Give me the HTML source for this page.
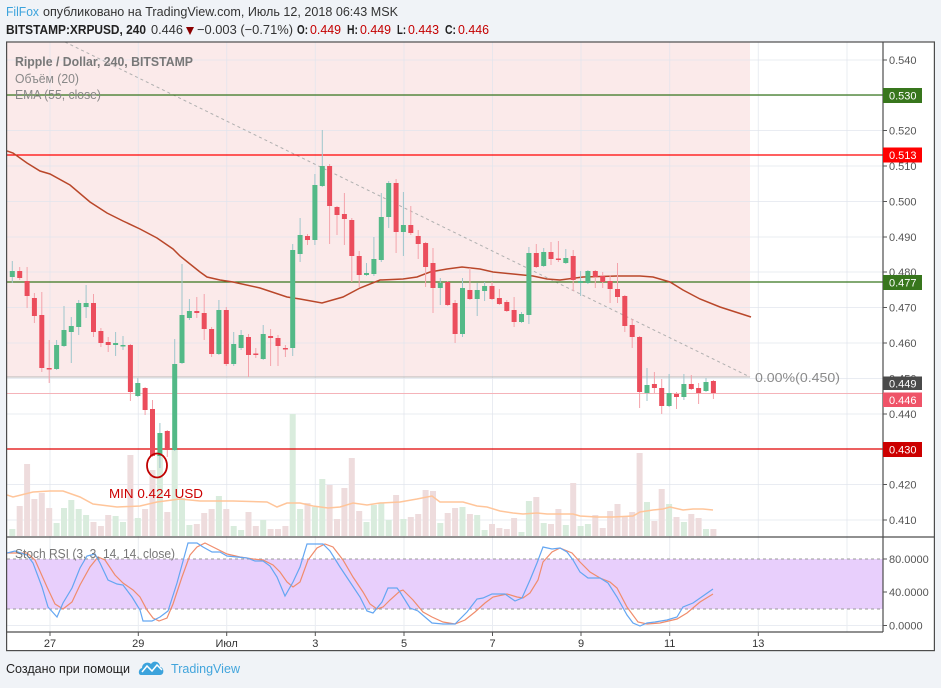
<!DOCTYPE html>
<html><head><meta charset="utf-8"><style>
html,body{margin:0;padding:0;background:#f0f3f7;}
svg{display:block;font-family:"Liberation Sans","Noto Sans CJK JP",sans-serif;}
</style></head><body>
<svg width="941" height="688" viewBox="0 0 941 688" xmlns="http://www.w3.org/2000/svg">
<defs>
<clipPath id="mp"><rect x="7" y="42" width="876" height="495"/></clipPath>
<clipPath id="sp"><rect x="7" y="537" width="876" height="95"/></clipPath>
</defs>
<rect x="0" y="0" width="941" height="688" fill="#f0f3f7"/>
<!-- header -->
<text x="6" y="16" font-size="13" fill="#3ca3dc" textLength="33" lengthAdjust="spacingAndGlyphs">FilFox</text>
<text x="43" y="16" font-size="13" fill="#333" textLength="355" lengthAdjust="spacingAndGlyphs">опубликовано на TradingView.com, Июль 12, 2018 06:43 MSK</text>
<text x="6" y="34" font-size="13" font-weight="bold" fill="#222" textLength="140" lengthAdjust="spacingAndGlyphs">BITSTAMP:XRPUSD, 240</text>
<text x="151" y="34" font-size="13" fill="#333" textLength="32" lengthAdjust="spacingAndGlyphs">0.446</text>
<polygon points="186,27 194,27 190,35" fill="#8b0000"/>
<text x="197" y="34" font-size="13" fill="#333" textLength="96" lengthAdjust="spacingAndGlyphs">−0.003 (−0.71%)</text>
<text x="297" y="34" font-size="13" font-weight="bold" fill="#222" textLength="11" lengthAdjust="spacingAndGlyphs">O:</text>
<text x="310" y="34" font-size="13" fill="#c40000" textLength="31" lengthAdjust="spacingAndGlyphs">0.449</text>
<text x="347" y="34" font-size="13" font-weight="bold" fill="#222" textLength="11" lengthAdjust="spacingAndGlyphs">H:</text>
<text x="360" y="34" font-size="13" fill="#c40000" textLength="31" lengthAdjust="spacingAndGlyphs">0.449</text>
<text x="397" y="34" font-size="13" font-weight="bold" fill="#222" textLength="9" lengthAdjust="spacingAndGlyphs">L:</text>
<text x="408" y="34" font-size="13" fill="#c40000" textLength="31" lengthAdjust="spacingAndGlyphs">0.443</text>
<text x="445" y="34" font-size="13" font-weight="bold" fill="#222" textLength="11" lengthAdjust="spacingAndGlyphs">C:</text>
<text x="458" y="34" font-size="13" fill="#c40000" textLength="31" lengthAdjust="spacingAndGlyphs">0.446</text>

<!-- chart frame background -->
<rect x="7" y="42" width="927" height="609" fill="#ffffff"/>

<!-- main pane -->
<g clip-path="url(#mp)">
<rect x="7" y="42" width="743" height="335" fill="#fbeaea"/>
<g stroke="#dfe4ec" stroke-opacity="0.7" stroke-width="1">
<path d="M7 60H883M7 95.4H883M7 130.5H883M7 166H883M7 201.5H883M7 237H883M7 272H883M7 307.5H883M7 343H883M7 378.5H883M7 414H883M7 449H883M7 484.5H883M7 520H883"/>
<path d="M50 42V537M138.3 42V537M226.7 42V537M315.3 42V537M404 42V537M492.5 42V537M581 42V537M669.7 42V537M758.3 42V537M847 42V537"/>
</g>
<!-- volume -->
<path fill="#d9ecdd" d="M9.3 529h6V536h-6zM53.6 523h6V536h-6zM61.0 508h6V536h-6zM68.3 500h6V536h-6zM75.7 509h6V536h-6zM83.1 515h6V536h-6zM112.6 516h6V536h-6zM120.0 522h6V536h-6zM134.8 518h6V536h-6zM156.9 455h6V536h-6zM171.7 448h6V536h-6zM179.0 498h6V536h-6zM186.4 525h6V536h-6zM215.9 496h6V536h-6zM230.7 526h6V536h-6zM238.1 530h6V536h-6zM260.2 520h6V536h-6zM289.7 414h6V536h-6zM297.1 509h6V536h-6zM311.9 507h6V536h-6zM319.3 479h6V536h-6zM363.5 522h6V536h-6zM370.9 505h6V536h-6zM378.3 503h6V536h-6zM385.7 520h6V536h-6zM400.4 519h6V536h-6zM437.3 523h6V536h-6zM459.5 507h6V536h-6zM474.2 515h6V536h-6zM481.6 530h6V536h-6zM518.5 532h6V536h-6zM525.9 501h6V536h-6zM540.7 523h6V536h-6zM562.8 525h6V536h-6zM577.6 526h6V536h-6zM584.9 524h6V536h-6zM644.0 502h6V536h-6zM666.1 504h6V536h-6zM680.9 522h6V536h-6zM703.0 529h6V536h-6z"/>
<path fill="#eedcdd" d="M16.7 506h6V536h-6zM24.1 464h6V536h-6zM31.4 499h6V536h-6zM38.8 493h6V536h-6zM46.2 508h6V536h-6zM90.5 522h6V536h-6zM97.9 526h6V536h-6zM105.2 515h6V536h-6zM127.4 455h6V536h-6zM142.1 509h6V536h-6zM149.5 470h6V536h-6zM164.3 512h6V536h-6zM193.8 524h6V536h-6zM201.2 513h6V536h-6zM208.6 509h6V536h-6zM223.3 509h6V536h-6zM245.5 512h6V536h-6zM252.8 526h6V536h-6zM267.6 529h6V536h-6zM275.0 529h6V536h-6zM282.4 526h6V536h-6zM304.5 503h6V536h-6zM326.6 485h6V536h-6zM334.0 519h6V536h-6zM341.4 488h6V536h-6zM348.8 458h6V536h-6zM356.2 511h6V536h-6zM393.1 495h6V536h-6zM407.8 517h6V536h-6zM415.2 514h6V536h-6zM422.6 490h6V536h-6zM430.0 491h6V536h-6zM444.7 513h6V536h-6zM452.1 508h6V536h-6zM466.9 514h6V536h-6zM489.0 524h6V536h-6zM496.4 528h6V536h-6zM503.8 529h6V536h-6zM511.1 518h6V536h-6zM533.3 497h6V536h-6zM548.0 524h6V536h-6zM555.4 509h6V536h-6zM570.2 483h6V536h-6zM592.3 515h6V536h-6zM599.7 528h6V536h-6zM607.1 511h6V536h-6zM614.5 504h6V536h-6zM621.8 517h6V536h-6zM629.2 512h6V536h-6zM636.6 453h6V536h-6zM651.4 521h6V536h-6zM658.7 489h6V536h-6zM673.5 517h6V536h-6zM688.3 514h6V536h-6zM695.6 518h6V536h-6zM710.4 529h6V536h-6z"/>
<polyline fill="none" stroke="#ffc59a" stroke-width="1.5" points="7,495 13,497 33,492 50,491 63,491 80,497 93,504 117,507 140,506 157,502 180,499 200,501 233,501 267,502 277,507 287,503 300,503 313,506 328,508 340,507 353,503 367,505 380,503 400,502 417,499 432,496 440,502 463,502 477,506 487,507 500,511 513,513 523,514 537,513 547,514 573,514 580,516 597,517 613,517 633,516 640,512 653,510 663,509 670,507 683,510 693,509 703,509 713,510"/>
<!-- fib 0 line + current price line -->
<line x1="7" y1="377" x2="750" y2="377" stroke="#b8b8b8" stroke-width="1"/>
<line x1="7" y1="393.5" x2="883" y2="393.5" stroke="#f5b3b9" stroke-width="1"/>
<!-- trend dashed -->
<line x1="65" y1="42" x2="750" y2="377" stroke="#b0b0b0" stroke-width="1" stroke-dasharray="3,3"/>
<!-- levels -->
<line x1="7" y1="95" x2="883" y2="95" stroke="#38761d" stroke-width="1.2"/>
<line x1="7" y1="155" x2="883" y2="155" stroke="#ff0000" stroke-width="1.2"/>
<line x1="7" y1="282" x2="883" y2="282" stroke="#38761d" stroke-width="1.2"/>
<line x1="7" y1="449" x2="883" y2="449" stroke="#e00000" stroke-width="1.2"/>
<!-- EMA -->
<polyline fill="none" stroke="#b9472a" stroke-width="1.5" points="7,151 13,153 27,163 40,171 50,174 70,185 90,202 107,213 123,221 140,229 157,238 173,249 180,256 190,264 200,272 207,277 220,280 233,282 260,288 287,297 300,299 322,303 343,297 360,288 380,280 403,279 417,277 430,272 447,269 462,267 480,269 493,272 513,274 533,276 547,279 560,280 583,277 617,276 640,276 653,277 670,282 683,290 700,299 720,307 751,317"/>
<!-- wicks -->
<path stroke="#9fc6cc" stroke-width="1" fill="none" d="M12.3 261V283M56.6 340V370M64.0 306V347M71.3 317V363M78.7 300V335M86.1 285V318M115.6 332V356M123.0 336V350M137.8 378V397M159.9 423V468M174.7 339V451M182.0 264V364M189.4 299V320M218.9 300V355M233.7 332V366M241.1 330V350M263.2 325V360M292.7 244V356M300.1 218V262M314.9 174V245M322.3 130V187M366.5 263V276M373.9 237V276M381.3 193V262M388.7 181V228M403.4 192V256M440.3 278V305M462.5 278V337M477.2 283V316M484.6 282V301M521.5 312V323M528.9 247V324M543.7 248V267M565.8 249V264M580.6 271V296M587.9 270V284M647.0 368V401M669.1 374V407M683.9 374V400M706.0 378V392"/>
<path stroke="#f4a3ab" stroke-width="1" fill="none" d="M19.7 267V280M27.1 267V308M34.4 293V323M41.8 292V372M49.2 340V383M93.5 294V337M100.9 328V347M108.2 337V352M130.4 344V401M145.1 387V415M152.5 400V457M167.3 430V457M196.8 297V318M204.2 294V340M211.6 327V357M226.3 307V366M248.5 334V377M255.8 348V358M270.6 329V366M278.0 335V366M285.4 345V357M307.5 234V245M329.6 164V244M337.0 206V235M344.4 193V245M351.8 218V282M359.2 251V287M396.1 179V253M410.8 206V235M418.2 230V259M425.6 242V287M433.0 248V313M447.7 281V306M455.1 300V343M469.9 268V300M492.0 282V300M499.4 289V305M506.8 300V312M514.1 297V327M536.3 244V268M551.0 242V265M558.4 241V262M573.2 250V291M595.3 270V288M602.7 272V288M610.1 275V303M617.5 263V303M624.8 295V332M632.2 319V348M639.6 336V408M654.4 372V393M661.7 379V414M676.5 392V409M691.3 375V390M698.6 383V404M713.4 380V399"/>
<!-- bodies -->
<path fill="#53b987" d="M9.8 271h5v6h-5zM54.1 345h5v24h-5zM61.5 330h5v16h-5zM68.8 326h5v6h-5zM76.2 303h5v24h-5zM83.6 303h5v4h-5zM113.1 343h5v2h-5zM120.5 345h5v1.5h-5zM135.3 383h5v13h-5zM157.4 433h5v23h-5zM172.2 364h5v86h-5zM179.5 315h5v48h-5zM186.9 311h5v7h-5zM216.4 310h5v44h-5zM231.2 344h5v20h-5zM238.6 335h5v13h-5zM260.7 334h5v25h-5zM290.2 250h5v98h-5zM297.6 235h5v19h-5zM312.4 185h5v55h-5zM319.8 166h5v20h-5zM364.0 273h5v2h-5zM371.4 259h5v15h-5zM378.8 217h5v43h-5zM386.2 183h5v34h-5zM400.9 225h5v7h-5zM437.8 283h5v5h-5zM460.0 288h5v46h-5zM474.7 290h5v9h-5zM482.1 286h5v5h-5zM519.0 314h5v8h-5zM526.4 253h5v62h-5zM541.2 252h5v14h-5zM563.3 258h5v5h-5zM578.1 281h5v2h-5zM585.4 271h5v12h-5zM644.5 385h5v8h-5zM666.6 393h5v13h-5zM681.4 384h5v13h-5zM703.5 382h5v9h-5z"/>
<path fill="#eb4d5c" d="M17.2 271h5v7h-5zM24.6 281h5v15h-5zM31.9 298h5v18h-5zM39.3 315h5v53h-5zM46.7 368h5v1.5h-5zM91.0 303h5v29h-5zM98.4 331h5v12h-5zM105.7 342h5v3h-5zM127.9 345h5v47h-5zM142.6 388h5v22h-5zM150.0 409h5v47h-5zM164.8 431h5v19h-5zM194.3 311h5v2h-5zM201.7 313h5v16h-5zM209.1 329h5v25h-5zM223.8 310h5v54h-5zM246.0 337h5v18h-5zM253.3 353.5h5v1.5h-5zM268.1 336h5v2h-5zM275.5 338h5v8h-5zM282.9 348h5v1.5h-5zM305.0 236h5v4h-5zM327.1 166h5v40h-5zM334.5 207h5v8h-5zM341.9 214h5v5h-5zM349.3 220h5v36h-5zM356.7 256h5v19h-5zM393.6 183h5v49h-5zM408.3 225h5v8h-5zM415.7 236h5v8h-5zM423.1 243h5v24h-5zM430.5 263h5v25h-5zM445.2 282h5v23h-5zM452.6 303h5v31h-5zM467.4 290h5v9h-5zM489.5 286h5v13h-5zM496.9 298h5v6h-5zM504.3 302h5v9h-5zM511.6 310h5v12h-5zM533.8 253h5v14h-5zM548.5 252h5v7h-5zM555.9 258.5h5v1.5h-5zM570.7 256h5v24h-5zM592.8 271h5v6h-5zM600.2 276h5v6h-5zM607.6 281h5v8h-5zM615.0 289h5v8h-5zM622.3 296h5v30h-5zM629.7 325h5v12h-5zM637.1 337h5v55h-5zM651.9 384h5v4h-5zM659.2 388h5v18h-5zM674.0 394h5v3h-5zM688.8 384h5v5h-5zM696.1 388h5v5h-5zM710.9 381h5v12h-5z"/>
<!-- annotations -->
<ellipse cx="157" cy="465.5" rx="10" ry="12" fill="none" stroke="#c00000" stroke-width="1.8"/>
<text x="109" y="498" font-size="13" fill="#cc0000" textLength="94" lengthAdjust="spacingAndGlyphs">MIN 0.424 USD</text>
<text x="755" y="382" font-size="13" fill="#8a8a8a" textLength="85" lengthAdjust="spacingAndGlyphs">0.00%(0.450)</text>
<text x="15" y="66" font-size="13" font-weight="bold" fill="#787878" textLength="178" lengthAdjust="spacingAndGlyphs">Ripple / Dollar, 240, BITSTAMP</text>
<text x="15" y="83" font-size="13" fill="#888" textLength="64" lengthAdjust="spacingAndGlyphs">Объём (20)</text>
<text x="15" y="99" font-size="13" fill="#888" textLength="86" lengthAdjust="spacingAndGlyphs">EMA (55, close)</text>
</g>

<!-- stoch pane -->
<g clip-path="url(#sp)">
<path stroke="#dfe4ec" stroke-opacity="0.7" d="M50 537V632M138.3 537V632M226.7 537V632M315.3 537V632M404 537V632M492.5 537V632M581 537V632M669.7 537V632M758.3 537V632M847 537V632M7 592H883M7 625.5H883"/>
<rect x="7" y="559" width="876" height="50" fill="#e8cffc"/>
<line x1="7" y1="559" x2="883" y2="559" stroke="#9a9a9a" stroke-dasharray="3,3"/>
<line x1="7" y1="609" x2="883" y2="609" stroke="#9a9a9a" stroke-dasharray="3,3"/>
<polyline fill="none" stroke="#f08c6c" stroke-width="1.2" points="7,553 27,553 35,560 47,587 55,604 63,609 72,602 80,585 90,567 98,557 105,560 115,575 123,583 133,590 140,597 147,610 153,618 159,621 167,618 173,604 182,577 190,555 197,547 205,543 215,548 227,554 240,557 253,559 263,560 273,565 280,572 287,582 293,587 300,582 308,560 317,548 325,544 333,547 343,560 353,577 363,592 370,604 377,609 383,607 390,600 400,591 403,590 413,600 423,612 432,617 443,622 455,624 465,620 475,612 485,603 493,597 507,594 517,597 523,598 530,593 538,580 543,562 552,552 560,548 572,553 580,562 590,572 600,578 610,582 617,588 627,607 638,622 647,624 660,623 677,619 687,613 700,602 713,594"/>
<polyline fill="none" stroke="#64a6f2" stroke-width="1.2" points="7,553 15,551 27,555 33,563 42,587 48,607 57,617 63,603 72,588 80,568 87,556 95,554 100,563 108,580 117,584 123,585 132,597 140,610 143,621 152,621 160,617 168,611 177,583 188,543 197,543 203,547 212,552 220,552 227,556 237,557 247,558 255,561 263,561 270,566 277,577 285,596 293,582 300,567 307,544 317,544 323,544 330,551 340,567 350,582 360,597 367,611 373,613 382,602 388,588 397,588 400,592 410,608 418,611 432,623 443,624 455,624 467,612 477,599 483,598 492,594 505,594 515,601 522,598 530,580 537,563 543,547 552,549 560,548 567,552 573,560 580,572 588,578 600,578 608,583 617,597 627,615 633,623 640,626 647,623 655,622 667,620 677,617 683,607 693,603 703,596 713,589"/>
<text x="15" y="558" font-size="13" fill="#777" textLength="160" lengthAdjust="spacingAndGlyphs">Stoch RSI (3, 3, 14, 14, close)</text>
</g>

<!-- frame lines -->
<g stroke="#4d4d4d" stroke-width="1.2" fill="none">
<rect x="6.6" y="42" width="927.8" height="608.6"/>
<line x1="883" y1="42" x2="883" y2="632"/>
<line x1="7" y1="537" x2="934" y2="537"/>
<line x1="7" y1="632" x2="883" y2="632"/>
</g>
<!-- ticks -->
<path stroke="#555" d="M883 60h4M883 95h4M883 130.5h4M883 166h4M883 201.5h4M883 237h4M883 272h4M883 307.5h4M883 343h4M883 378.5h4M883 414h4M883 449h4M883 484.5h4M883 520h4M883 559h4M883 592h4M883 625.5h4M50 632v4M138.3 632v4M226.7 632v4M315.3 632v4M404 632v4M492.5 632v4M581 632v4M669.7 632v4M758.3 632v4"/>
<!-- price labels -->
<g font-size="11" fill="#555">
<text x="889" y="64">0.540</text>
<text x="889" y="99">0.530</text>
<text x="889" y="134.5">0.520</text>
<text x="889" y="170">0.510</text>
<text x="889" y="205.5">0.500</text>
<text x="889" y="241">0.490</text>
<text x="889" y="276">0.480</text>
<text x="889" y="311.5">0.470</text>
<text x="889" y="347">0.460</text>
<text x="889" y="382.5">0.450</text>
<text x="889" y="418">0.440</text>
<text x="889" y="488.5">0.420</text>
<text x="889" y="524">0.410</text>
<text x="889" y="563">80.0000</text>
<text x="889" y="596">40.0000</text>
<text x="889" y="629.5">0.0000</text>
</g>
<!-- level boxes -->
<rect x="883" y="88" width="39" height="15" fill="#38761d"/>
<rect x="883" y="147.5" width="39" height="15" fill="#ff0000"/>
<rect x="883" y="275" width="39" height="15" fill="#38761d"/>
<rect x="883" y="376.5" width="39" height="13.5" fill="#4a4a4a"/>
<rect x="883" y="392.5" width="39" height="14.5" fill="#ef5368"/>
<rect x="883" y="442" width="39" height="15" fill="#cc0000"/>
<g font-size="11" fill="#ffffff">
<text x="889" y="99.5">0.530</text>
<text x="889" y="159">0.513</text>
<text x="889" y="286.5">0.477</text>
<text x="889" y="387.5">0.449</text>
<text x="889" y="404">0.446</text>
<text x="889" y="453.5">0.430</text>
</g>
<!-- time labels -->
<g font-size="11" fill="#333" text-anchor="middle">
<text x="50" y="647">27</text>
<text x="138.3" y="647">29</text>
<text x="226.7" y="647">Июл</text>
<text x="315.3" y="647">3</text>
<text x="404" y="647">5</text>
<text x="492.5" y="647">7</text>
<text x="581" y="647">9</text>
<text x="669.7" y="647">11</text>
<text x="758.3" y="647">13</text>
</g>
<!-- footer -->
<text x="6" y="673" font-size="13" fill="#222" textLength="124" lengthAdjust="spacingAndGlyphs">Создано при помощи</text>
<g fill="#3ca3dc">
<path d="M141 675 C138 675 138 669 142 668 C142 663 148 661 151 664 C153 660 160 661 160 667 C164 667 165 675 160 675 Z"/>
</g>
<polyline points="142,672 147,666 152,671 157,665 162,670" fill="none" stroke="#ffffff" stroke-width="1.5"/>
<text x="171" y="673" font-size="13" fill="#42a5dc" textLength="69" lengthAdjust="spacingAndGlyphs">TradingView</text>
</svg>
</body></html>
